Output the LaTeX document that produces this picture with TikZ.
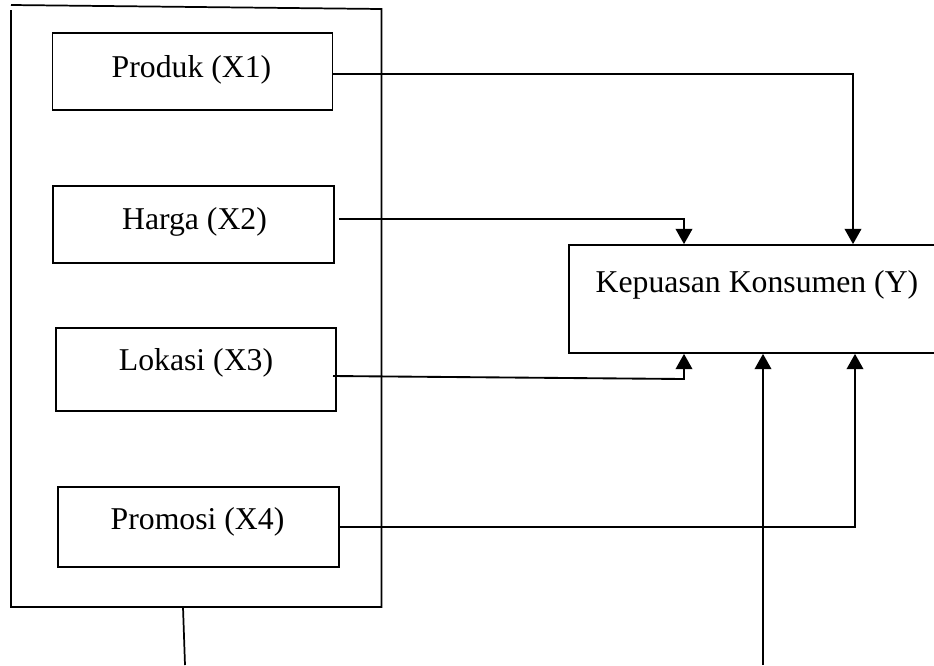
\documentclass[tikz,border=0pt]{standalone}
\usepackage{fontspec}
\setmainfont{Liberation Serif}
\usetikzlibrary{arrows.meta}
\begin{document}
\begin{tikzpicture}[x=0.75pt,y=-0.75pt,
  line width=1.3pt,
  box/.style={draw,rectangle,inner sep=0pt,line width=1.3pt},
  lbl/.style={anchor=base,inner sep=0pt,font=\fontsize{23.8}{28}\selectfont},
  arr/.style={-{Triangle[width=12.5pt,length=11.5pt]},line width=1.4pt}]
\clip (0,0) rectangle (934,665);
% outer group box (slightly skewed top edge as in the reference)
\node[rectangle,inner sep=0pt,outer sep=0pt,minimum width=370.5*0.75pt,minimum height=600*0.75pt] (outer) at (196.25,307) {};
\coordinate (otl) at (11,5);
\coordinate (otr) at (381.5,9);
\coordinate (olt) at (11,10);
\draw (olt) -- (outer.south west) -- (outer.south east) -- (otr) -- (otl);
% inner boxes
\node[box,minimum width=280*0.75pt,minimum height=77*0.75pt] (p1) at (192.5,71.5) {};
\node[box,minimum width=281*0.75pt,minimum height=77*0.75pt] (p2) at (193.5,224.5) {};
\node[box,minimum width=280*0.75pt,minimum height=83*0.75pt] (p3) at (196,369.5) {};
\node[box,minimum width=281*0.75pt,minimum height=80*0.75pt] (p4) at (198.5,527) {};
% outcome box
\node[box,minimum width=372*0.75pt,minimum height=108*0.75pt] (k) at (755,299) {};
% labels
\node[lbl] (t1) at (191.5,77) {Produk (X1)};
\node[lbl] (t2) at (194.5,229) {Harga (X2)};
\node[lbl] (t3) at (196,370) {Lokasi (X3)};
\node[lbl] (t4) at (197.5,529) {Promosi (X4)};
\node[lbl] (ty) at (757,292) {Kepuasan Konsumen (Y)};
% bend coordinates
\coordinate (c1) at (853,74);
\coordinate (c2) at (684,219);
\coordinate (s3) at (333,376);
\coordinate (c3) at (684,379);
\coordinate (c4) at (855,527);
\coordinate (b1) at (763,665);
\coordinate (b2) at (185,665);
\coordinate (b2t) at (183,0);
% connectors
\draw[arr] (p1.east |- c1) -- (c1) -- (c1 |- k.north);
\draw[arr] ([xshift=3pt]p2.east |- c2) -- (c2) -- (c2 |- k.north);
\draw[arr] (s3) -- (c3) -- (c3 |- k.south);
\draw[arr] (p4.east |- c4) -- (c4) -- (c4 |- k.south);
\draw[arr] (b1) -- (b1 |- k.south);
\draw (b2t |- outer.south) -- (b2);
\end{tikzpicture}
\end{document}
